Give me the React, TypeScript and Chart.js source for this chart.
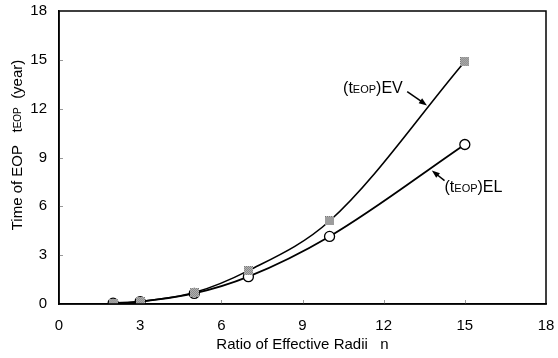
import React, { useEffect, useRef } from "react";
import { Chart, registerables } from "chart.js";

Chart.register(...registerables);

// ---- data ----
const ratioN = [2, 3, 5, 7, 10, 15];
const timeEV = [0.05, 0.15, 0.7, 2.05, 5.1, 14.9];
const timeEL = [0.05, 0.15, 0.65, 1.68, 4.15, 9.8];
const xTickValues = [0, 3, 6, 9, 12, 15, 18];
const yTickValues = [0, 3, 6, 9, 12, 15, 18];
const xTitle = "Ratio of Effective Radii   n";
const yTitleParts = ["Time of EOP   t", "EOP", "  (year)"];
const evLabelParts = ["(t", "EOP", ")EV"];
const elLabelParts = ["(t", "EOP", ")EL"];
// annotation anchors (data units)
const evLabelAt = { x: 10.5, y: 12.95 };
const evArrow = { from: { x: 12.87, y: 13.05 }, to: { x: 13.6, y: 12.2 } };
const elLabelAt = { x: 14.25, y: 6.9 };
const elArrow = { from: { x: 14.25, y: 7.58 }, to: { x: 13.78, y: 8.2 } };

const FONT = "'Liberation Sans', Arial, sans-serif";

function makeHatch(): HTMLCanvasElement {
  const c = document.createElement("canvas");
  c.width = 9;
  c.height = 9;
  const g = c.getContext("2d")!;
  g.fillStyle = "#c4c4c4";
  g.fillRect(0, 0, 9, 9);
  g.fillStyle = "#777";
  for (let i = 0; i < 9; i++) {
    for (let j = 0; j < 9; j++) {
      if ((i + j) % 2 === 0) g.fillRect(i, j, 1, 1);
    }
  }
  return c;
}

function drawParts(ctx: CanvasRenderingContext2D, parts: string[], x: number, y: number, big: number, small: number) {
  const fonts = [big, small, big];
  let cx = x;
  parts.forEach((p, i) => {
    ctx.font = `${fonts[i]}px ${FONT}`;
    ctx.fillText(p, cx, y);
    cx += ctx.measureText(p).width;
  });
}

function measureParts(ctx: CanvasRenderingContext2D, parts: string[], big: number, small: number) {
  const fonts = [big, small, big];
  let w = 0;
  parts.forEach((p, i) => {
    ctx.font = `${fonts[i]}px ${FONT}`;
    w += ctx.measureText(p).width;
  });
  return w;
}

function arrow(ctx: CanvasRenderingContext2D, x1: number, y1: number, x2: number, y2: number) {
  const ang = Math.atan2(y2 - y1, x2 - x1);
  const hl = 8;
  const hw = 3;
  ctx.strokeStyle = "#000";
  ctx.lineWidth = 1.5;
  ctx.beginPath();
  ctx.moveTo(x1, y1);
  ctx.lineTo(x2 - Math.cos(ang) * hl * 0.8, y2 - Math.sin(ang) * hl * 0.8);
  ctx.stroke();
  ctx.fillStyle = "#000";
  ctx.beginPath();
  ctx.moveTo(x2, y2);
  ctx.lineTo(x2 - Math.cos(ang) * hl - Math.sin(ang) * hw, y2 - Math.sin(ang) * hl + Math.cos(ang) * hw);
  ctx.lineTo(x2 - Math.cos(ang) * hl + Math.sin(ang) * hw, y2 - Math.sin(ang) * hl - Math.cos(ang) * hw);
  ctx.closePath();
  ctx.fill();
}

const decorPlugin = {
  id: "decor",
  beforeDatasetsDraw(chart: any) {
    const { ctx, chartArea: a, scales } = chart;
    const xs = scales.x;
    const ys = scales.y;
    ctx.save();
    ctx.strokeStyle = "#999";
    ctx.lineWidth = 1;
    xTickValues.slice(1, -1).forEach((v) => {
      const px = Math.round(xs.getPixelForValue(v)) + 0.5;
      ctx.beginPath();
      ctx.moveTo(px, a.bottom);
      ctx.lineTo(px, a.bottom - 4);
      ctx.stroke();
    });
    yTickValues.slice(1, -1).forEach((v) => {
      const py = Math.round(ys.getPixelForValue(v)) + 0.5;
      ctx.beginPath();
      ctx.moveTo(a.left, py);
      ctx.lineTo(a.left + 4, py);
      ctx.stroke();
    });
    ctx.restore();
  },
  afterDraw(chart: any) {
    const { ctx, chartArea: a, scales } = chart;
    const xs = scales.x;
    const ys = scales.y;
    ctx.save();
    ctx.strokeStyle = "#000";
    ctx.lineWidth = 1.5;
    ctx.strokeRect(a.left, a.top, a.right - a.left, a.bottom - a.top);

    ctx.fillStyle = "#000";
    ctx.textBaseline = "middle";
    const w = measureParts(ctx, yTitleParts, 15, 10);
    ctx.translate(18, 145);
    ctx.rotate(-Math.PI / 2);
    drawParts(ctx, yTitleParts, -w / 2, 0, 15, 10);
    ctx.setTransform(1, 0, 0, 1, 0, 0);

    ctx.textBaseline = "alphabetic";
    drawParts(ctx, evLabelParts, xs.getPixelForValue(evLabelAt.x), ys.getPixelForValue(evLabelAt.y), 16, 11);
    drawParts(ctx, elLabelParts, xs.getPixelForValue(elLabelAt.x), ys.getPixelForValue(elLabelAt.y), 16, 11);
    arrow(ctx, xs.getPixelForValue(evArrow.from.x), ys.getPixelForValue(evArrow.from.y), xs.getPixelForValue(evArrow.to.x), ys.getPixelForValue(evArrow.to.y));
    arrow(ctx, xs.getPixelForValue(elArrow.from.x), ys.getPixelForValue(elArrow.from.y), xs.getPixelForValue(elArrow.to.x), ys.getPixelForValue(elArrow.to.y));
    ctx.restore();
  },
};

export default function App() {
  const ref = useRef<HTMLCanvasElement>(null);
  useEffect(() => {
    if (!ref.current) return;
    const hatch = makeHatch();
    const chart = new Chart(ref.current, {
      type: "line",
      data: {
        datasets: [
          {
            label: "(tEOP)EV",
            data: ratioN.map((x, i) => ({ x, y: timeEV[i] })),
            borderColor: "#000",
            borderWidth: 1.6,
            cubicInterpolationMode: "monotone",
            pointStyle: hatch as any,
            pointRadius: 4.5,
            fill: false,
          },
          {
            label: "(tEOP)EL",
            data: ratioN.map((x, i) => ({ x, y: timeEL[i] })),
            borderColor: "#000",
            borderWidth: 1.8,
            cubicInterpolationMode: "monotone",
            pointStyle: "circle",
            pointRadius: 5,
            pointBackgroundColor: "#fff",
            pointBorderColor: "#000",
            pointBorderWidth: 1.3,
            fill: false,
          },
        ],
      },
      options: {
        animation: false,
        responsive: false,
        devicePixelRatio: 1,
        layout: { padding: { top: 11, right: 12, left: 0, bottom: 0 } },
        plugins: { legend: { display: false }, tooltip: { enabled: false } },
        scales: {
          x: {
            type: "linear",
            min: 0,
            max: 18,
            afterBuildTicks: (s: any) => {
              s.ticks = xTickValues.map((v) => ({ value: v }));
            },
            afterFit: (s: any) => {
              s.height = 54;
              s.paddingLeft = 0;
              s.paddingRight = 0;
            },
            grid: { display: false, drawTicks: false },
            border: { display: true, color: "#000", width: 1.5 },
            ticks: { padding: 13, color: "#000", font: { family: FONT, size: 15 } },
            title: {
              display: true,
              text: xTitle,
              color: "#000",
              font: { family: FONT, size: 15 },
              padding: { top: 0, bottom: 4 },
            },
          },
          y: {
            type: "linear",
            min: 0,
            max: 18,
            afterBuildTicks: (s: any) => {
              s.ticks = yTickValues.map((v) => ({ value: v }));
            },
            afterFit: (s: any) => {
              s.width = 59;
              s.paddingTop = 0;
              s.paddingBottom = 0;
            },
            grid: { display: false, drawTicks: false },
            border: { display: true, color: "#000", width: 1.5 },
            ticks: { padding: 12, color: "#000", font: { family: FONT, size: 15 } },
          },
        },
      },
      plugins: [decorPlugin],
    });
    return () => chart.destroy();
  }, []);
  return (
    <div style={{ position: "absolute", left: 0, top: 0, width: 558, height: 358, background: "#fff" }}>
      <canvas ref={ref} width={558} height={358} style={{ display: "block" }} />
    </div>
  );
}
